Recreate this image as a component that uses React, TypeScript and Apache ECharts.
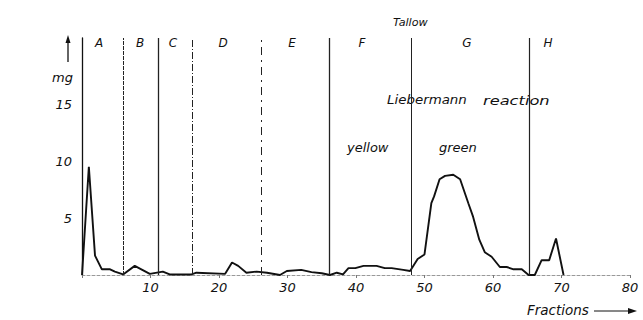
import React, { useEffect, useRef } from "react";
import * as echarts from "echarts";

const fractions = [0, 0.6, 1, 1.9, 2.9, 4.1, 4.8, 6, 7.7, 9.9, 11.8, 12.8, 16, 16.7, 20.9, 21.9, 22.8, 24, 25.5, 27, 28.9, 29.9, 32, 33.5, 35, 36.2, 37.2, 38.1, 38.9, 39.9, 41.1, 43, 44.2, 45.2, 46.9, 47.9, 49, 50, 51, 51.4, 52.2, 53, 54.2, 55.2, 56.4, 57.1, 58, 58.8, 59.8, 61, 62, 63, 64.2, 65.2, 66.1, 67.1, 68.2, 69.2, 70.3];
const mg = [0, 5.7, 9.5, 1.7, 0.5, 0.5, 0.3, 0.05, 0.8, 0.1, 0.3, 0.05, 0.05, 0.2, 0.1, 1.1, 0.8, 0.2, 0.3, 0.2, 0, 0.35, 0.45, 0.25, 0.15, 0, 0.2, 0.05, 0.6, 0.6, 0.8, 0.8, 0.6, 0.6, 0.45, 0.35, 1.4, 1.8, 6.3, 6.9, 8.4, 8.7, 8.8, 8.4, 6.3, 5.1, 3.1, 2.0, 1.6, 0.7, 0.7, 0.5, 0.5, 0, 0, 1.3, 1.3, 3.2, 0];

const zoneBounds = [6, 11.1, 16.1, 26.1, 36.1, 48, 65.3];
const zoneDash: (string | number[])[] = [[4, 1], "solid", [7, 2, 1, 2], [8, 5, 2, 5], "solid", "solid", "solid"];
const zoneWidth = [1, 1.3, 1, 1, 1.3, 1, 1.2];
const zoneNames = ["A", "B", "C", "D", "E", "F", "G", "H"];
const zoneLabelX = [99, 140, 173, 223, 292, 362, 467, 548];
const yTickLabels = [5, 10, 15];

const FONT = "DejaVu Sans";
const INK = "#111";

export default function App() {
  const ref = useRef<HTMLDivElement>(null);
  useEffect(() => {
    if (!ref.current) return;
    const chart = echarts.init(ref.current, null, { renderer: "svg" });
    const txt = (text: string, x: number, y: number, size: number, align = "center", scaleX = 1) => ({
      type: "text",
      x,
      y,
      scaleX,
      silent: true,
      style: {
        text,
        fill: INK,
        font: `italic ${size}px "${FONT}"`,
        align,
        verticalAlign: "middle",
      },
    });
    chart.setOption({
      animation: false,
      backgroundColor: "#fff",
      grid: { left: 82, right: 13, top: 38, bottom: 45 },
      xAxis: {
        type: "value",
        min: 0,
        max: 80,
        interval: 10,
        splitLine: { show: false },
        axisLine: { show: true, lineStyle: { color: "#999", type: [3, 2], width: 1 } },
        axisTick: { show: true, length: 3, lineStyle: { color: "#777" } },
        axisLabel: {
          margin: 6,
          color: INK,
          fontFamily: FONT,
          fontStyle: "italic",
          fontSize: 13,
          formatter: (v: number) => (v === 0 ? "" : String(v)),
        },
      },
      yAxis: {
        type: "value",
        min: 0,
        max: 20.8,
        interval: 5,
        splitLine: { show: false },
        axisLine: { show: true, lineStyle: { color: INK, width: 1.3 } },
        axisTick: { show: false },
        axisLabel: {
          margin: 10,
          color: INK,
          fontFamily: FONT,
          fontStyle: "italic",
          fontSize: 13,
          formatter: (v: number) => (yTickLabels.includes(v) ? String(v) : ""),
        },
      },
      series: [
        {
          type: "line",
          data: fractions.map((f, i) => [f, mg[i]]),
          showSymbol: false,
          symbol: "none",
          lineStyle: { color: INK, width: 1.9 },
          markLine: {
            silent: true,
            symbol: "none",
            label: { show: false },
            data: zoneBounds.map((b, i) => ({
              xAxis: b,
              lineStyle: { color: "#222", width: zoneWidth[i], type: zoneDash[i] },
            })),
          },
        },
      ],
      graphic: [
        ...zoneNames.map((n, i) => txt(n, zoneLabelX[i], 43, 12)),
        txt("Tallow", 393, 22, 11.2, "left"),
        txt("Liebermann", 387, 100, 13, "left", 1.03),
        txt("reaction", 483, 100, 13, "left", 1.25),
        txt("yellow", 347, 147, 13, "left"),
        txt("green", 439, 147, 13, "left"),
        txt("mg", 52, 77, 13, "left"),
        txt("Fractions", 527, 310, 13.5, "left"),
        { type: "line", silent: true, shape: { x1: 68, y1: 62, x2: 68, y2: 41 }, style: { stroke: INK, lineWidth: 1.3 } },
        { type: "polygon", silent: true, shape: { points: [[68, 35], [65.5, 43], [70.5, 43]] }, style: { fill: INK } },
        { type: "line", silent: true, shape: { x1: 594, y1: 311, x2: 630, y2: 311 }, style: { stroke: INK, lineWidth: 1 } },
        { type: "polygon", silent: true, shape: { points: [[637, 311], [628, 308], [628, 314]] }, style: { fill: INK } },
      ],
    });
    return () => chart.dispose();
  }, []);
  return (
    <div
      ref={ref}
      style={{ position: "fixed", left: 0, top: 0, width: 643, height: 320 }}
    />
  );
}
